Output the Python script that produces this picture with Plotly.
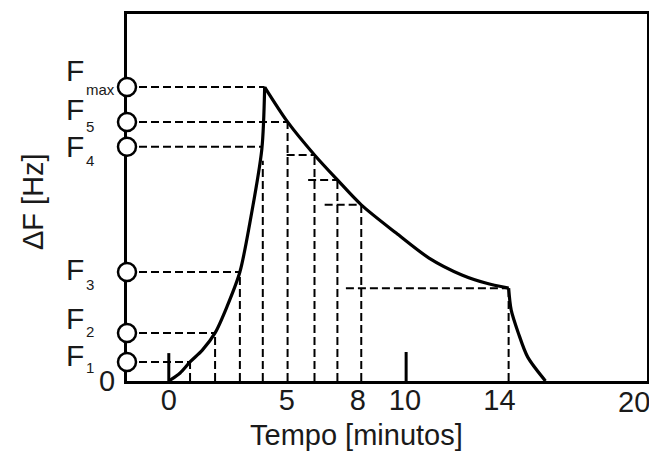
import plotly.graph_objects as go

# ---- data (time in minutes, ΔF in arbitrary units) ----
level_names = ["max", "5", "4", "3", "2", "1"]
level_values = [80.1, 70.6, 63.8, 29.7, 13.1, 5.2]
level_reach_t = [4.06, 5.03, 3.94, 3.01, 1.96, 0.9]   # where each dashed level meets the curve

rise_t = [0, 0.48, 0.9, 1.42, 1.96, 2.46, 3.01, 3.43, 3.94, 4.06]
rise_f = [0, 2.2, 5.2, 8.4, 13.1, 20.2, 29.7, 43.0, 63.2, 80.1]

decay_t = [4.06, 5.03, 6.17, 7.14, 8.15, 9.63, 11.02, 12.41, 13.42, 14.39]
decay_f = [80.1, 70.6, 61.6, 54.8, 48.0, 40.3, 33.5, 28.9, 26.7, 25.3]

drop_t = [14.39, 14.5, 14.8, 15.2, 15.95]
drop_f = [25.3, 19.3, 13.1, 6.5, 0]

vert_t = [0.9, 1.96, 3.01, 3.98, 5.03, 6.17, 7.14, 8.15, 14.39]
vert_f = [5.2, 13.1, 29.7, 60.0, 70.6, 61.6, 54.8, 48.0, 25.3]

step_t0 = [4.99, 5.9, 6.6, 7.5]
step_t1 = [6.17, 7.14, 8.15, 14.39]
step_f = [61.6, 54.8, 48.0, 25.3]

mark_t = [0, 10.05]
mark_f = [7.6, 7.9]

x_ticks = [0, 5, 8, 10, 14, 20]
x_ticktext = ["0", "5", "8", "10", "14", "20"]

x_min, x_max = -1.77, 20.25
y_min, y_max = 0, 100

# label styling (pixel offsets of the hand lettering)
f_shift = [16.5, 12.5, 0, 2.5, 14.5, 6.5]
sub_shift = [-2.5, -5, -14, -12, 1, -5.5]

FONT = "Liberation Sans, Arial, sans-serif"
TXT = "#1a1a1a"
DASH = "8px,4px"

fig = go.Figure()

# horizontal dashed levels from the axis
hx, hy = [], []
for v, t in zip(level_values, level_reach_t):
    hx += [x_min, t, None]
    hy += [v, v, None]
for a, b, v in zip(step_t0, step_t1, step_f):
    hx += [a, b, None]
    hy += [v, v, None]
fig.add_trace(go.Scatter(x=hx, y=hy, mode="lines",
                         line=dict(color="black", width=2, dash=DASH),
                         hoverinfo="skip", showlegend=False))

# vertical dashed lines
vx, vy = [], []
for t, f in zip(vert_t, vert_f):
    vx += [t, t, None]
    vy += [0, f, None]
fig.add_trace(go.Scatter(x=vx, y=vy, mode="lines",
                         line=dict(color="black", width=2, dash=DASH),
                         hoverinfo="skip", showlegend=False))

# solid marks on the time axis
mx, my = [], []
for t, f in zip(mark_t, mark_f):
    mx += [t, t, None]
    my += [0, f, None]
fig.add_trace(go.Scatter(x=mx, y=my, mode="lines",
                         line=dict(color="black", width=3),
                         hoverinfo="skip", showlegend=False))

# the response curve
for tt, ff in [(rise_t, rise_f), (decay_t, decay_f), (drop_t, drop_f)]:
    fig.add_trace(go.Scatter(x=tt, y=ff, mode="lines",
                             line=dict(color="black", width=3.2, shape="spline", smoothing=0.8),
                             hoverinfo="skip", showlegend=False))

# open circles on the ΔF axis
fig.add_trace(go.Scatter(x=[x_min] * len(level_values), y=level_values, mode="markers",
                         marker=dict(size=18, color="white",
                                     line=dict(color="black", width=2.5)),
                         cliponaxis=False, hoverinfo="skip", showlegend=False))

annotations = []
for name, v, fs, ss in zip(level_names, level_values, f_shift, sub_shift):
    annotations.append(dict(text="F", xref="paper", x=-0.120, xanchor="left",
                            yref="y", y=v, yanchor="middle", yshift=fs, borderpad=0,
                            showarrow=False, font=dict(family=FONT, size=30, color=TXT)))
    annotations.append(dict(text=name, xref="paper", x=-0.0805, xanchor="left",
                            yref="y", y=v, yanchor="middle", yshift=ss, borderpad=0,
                            showarrow=False, font=dict(family=FONT, size=15, color=TXT)))

# last time label sits at the window edge; drawn as text nudged inward so it stays visible
annotations.append(dict(text=x_ticktext[-1], xref="x", x=x_ticks[-1], xanchor="center",
                        xshift=-7, yref="paper", y=-0.057, yanchor="middle",
                        showarrow=False, font=dict(family=FONT, size=29, color=TXT)))

annotations.append(dict(text="ΔF [Hz]", textangle=-90, xref="paper", x=-0.181,
                        xanchor="center", yref="paper", y=0.49, yanchor="middle",
                        showarrow=False, font=dict(family=FONT, size=29, color=TXT)))
annotations.append(dict(text="Tempo [minutos]", xref="paper", x=0.442,
                        xanchor="center", yref="paper", y=-0.148, yanchor="middle",
                        showarrow=False, font=dict(family=FONT, size=29, color=TXT)))

# the page body adds an 8px margin, so the figure is sized to fit inside the window
fig.update_layout(
    width=649, height=443,
    margin=dict(l=119, r=10, t=6, b=70, autoexpand=False),
    paper_bgcolor="white", plot_bgcolor="white",
    annotations=annotations,
    xaxis=dict(range=[x_min, x_max], showgrid=False, zeroline=False, automargin=False,
               showline=True, mirror=True, linecolor="black", linewidth=3,
               ticks="", tickvals=x_ticks[:-1], ticktext=x_ticktext[:-1],
               tickfont=dict(family=FONT, size=29, color=TXT),
               ticklabelstandoff=-9, ticklabeloverflow="allow", layer="below traces"),
    yaxis=dict(range=[y_min, y_max], showgrid=False, zeroline=False, automargin=False,
               showline=True, mirror=True, linecolor="black", linewidth=3,
               ticks="", tickvals=[0], ticktext=["0"],
               tickfont=dict(family=FONT, size=29, color=TXT),
               ticklabelstandoff=3, layer="below traces"),
)

fig.write_html("out.html")
